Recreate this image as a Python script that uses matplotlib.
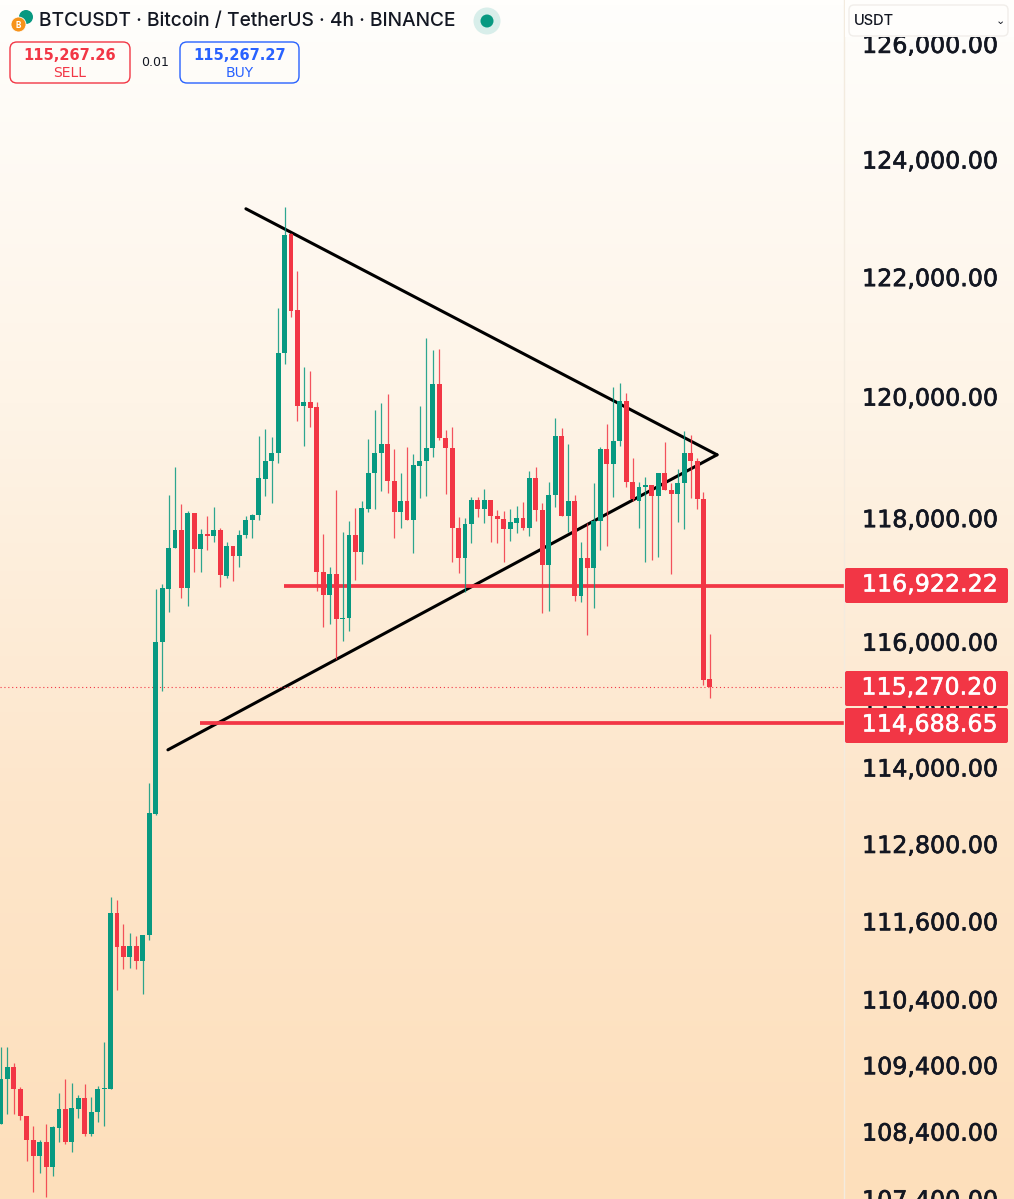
import matplotlib
matplotlib.use("Agg")
import matplotlib.patheffects as pe
import matplotlib.pyplot as plt
import numpy as np
from matplotlib.colors import LinearSegmentedColormap
from matplotlib.patches import Circle, FancyBboxPatch, Rectangle

plt.rcParams["font.family"] = ["Inter", "DejaVu Sans"]

GREEN = "#089981"
RED = "#f23645"
BLUE = "#2962ff"
INK = "#131722"
NUM_FONT = "DejaVu Sans"  # equal width digits, like the price scale
NUM_SIZE = 17.1

# 4h candles
opens = [
    108510, 109190, 109370, 109040, 108620, 108270, 108030, 108240, 107870, 108450,
    108730, 108240, 108730, 108900, 108350, 108690, 109040, 109040, 111720, 111210,
    111050, 111210, 110980, 111380, 113260, 115990, 116840, 117510, 117800, 116860,
    118080, 117490, 117740, 117700, 117790, 117050, 117530, 117380, 117720, 117960,
    118050, 118640, 118920, 119060, 120720, 122720, 121440, 119840, 119900, 119820,
    117120, 116750, 117090, 116360, 116380, 117720, 117440, 118140, 118730, 119060,
    119210, 118600, 118090, 118270, 117960, 118850, 118920, 119150, 120200, 119310,
    119150, 117830, 117350, 117900, 118290, 118140, 118290, 118030, 117980, 117820,
    117920, 118000, 117830, 118650, 118130, 117230, 118370, 119340, 118030, 118270,
    116730, 117350, 117180, 117950, 119130, 118880, 119260, 119920, 118590, 118270,
    118500, 118540, 118350, 118730, 118450, 118390, 118570, 119060, 118920, 118310,
    115400,
]
highs = [
    109670, 109670, 109430, 109070, 108630, 108470, 108270, 108510, 108470, 108980,
    109190, 109130, 108940, 109110, 108910, 109080, 109750, 111970, 111920, 111550,
    111410, 111370, 111380, 113750, 116840, 116920, 118370, 118830, 118220, 118110,
    118080, 117820, 118030, 118180, 117830, 117610, 117530, 117800, 118030, 118060,
    119340, 119460, 119330, 121470, 123180, 122740, 122100, 120490, 120420, 119900,
    117740, 117200, 118450, 117770, 117950, 118160, 118270, 119290, 119770, 119890,
    120040, 119130, 118730, 119160, 119050, 119840, 120970, 120760, 120790, 119440,
    119490, 118010, 118000, 118340, 118340, 118470, 118290, 118130, 118110, 118140,
    118190, 118260, 118770, 118830, 118240, 118590, 119640, 119480, 119210, 118370,
    117610, 117920, 118570, 119160, 119540, 120150, 120220, 120050, 118980, 118590,
    118670, 118540, 118730, 119240, 118570, 118800, 119430, 119360, 118980, 118420,
    116120,
]
lows = [
    108500, 108660, 108650, 108560, 107960, 107490, 107780, 107420, 107730, 108230,
    108200, 108080, 108600, 108330, 108320, 108540, 108480, 109040, 110540, 110860,
    110880, 110860, 110480, 111310, 113250, 115200, 116470, 117510, 116700, 116570,
    117120, 117120, 117480, 117610, 116880, 117020, 116970, 117200, 117660, 117670,
    117960, 118350, 118240, 118900, 120540, 121320, 119590, 119180, 119490, 116810,
    116230, 116280, 115720, 116010, 116170, 116990, 117250, 118090, 118140, 118440,
    118400, 117670, 117830, 117960, 117430, 118320, 118350, 119000, 119280, 118390,
    117280, 117100, 116790, 117590, 118010, 117920, 117610, 117590, 117270, 117620,
    117750, 117800, 117700, 117950, 116460, 116490, 118180, 118030, 117770, 116650,
    116630, 116100, 116540, 117480, 117530, 118340, 119180, 118500, 118270, 117830,
    117280, 117310, 117360, 118450, 117090, 117930, 117820, 118320, 118140, 115300,
    115090,
]
closes = [
    109190, 109370, 109040, 108620, 108270, 108030, 108240, 107870, 108460, 108730,
    108240, 108750, 108900, 108350, 108690, 109040, 109050, 111720, 111200, 111050,
    111210, 110980, 111380, 113280, 115990, 116860, 117510, 117800, 116860, 118080,
    117490, 117740, 117700, 117790, 117070, 117530, 117380, 117720, 117960, 118050,
    118650, 118930, 119060, 120720, 122710, 121420, 119840, 119900, 119800, 117120,
    116750, 117090, 116360, 116380, 117720, 117440, 118160, 118730, 119060, 119210,
    118600, 118090, 118270, 117960, 118870, 118930, 119150, 120200, 119310, 119150,
    117830, 117350, 117900, 118290, 118140, 118290, 118030, 117980, 117820, 117930,
    118000, 117830, 118650, 118130, 117230, 118370, 119340, 118030, 118270, 116730,
    117350, 117180, 117950, 119130, 118880, 119260, 119920, 118590, 118310, 118500,
    118540, 118350, 118730, 118450, 118390, 118570, 119060, 118920, 118310, 115380,
    115270,
]

price_ticks = [126000, 124000, 122000, 120000, 118000, 116000, 115000, 114000,
               112800, 111600, 110400, 109400, 108400, 107400]

level_high = 116922.22
level_low = 114688.65
last_price = 115270.20

# trend lines as (candle index, price)
upper_trend = ([38.0, 111.1], [123150, 119030])
lower_trend = ([25.9, 111.1], [114270, 119030])
level_high_start = 43.9
level_low_start = 30.9
level_high_drawn = 116890  # the line sits a little under its tag

fig = plt.figure(figsize=(10.14, 11.99), dpi=100)

# page background
bg = fig.add_axes([0, 0, 1, 1], zorder=0)
cmap = LinearSegmentedColormap.from_list("page", ["#fffefc", "#fef4e7", "#fde6cb", "#fddfbb"])
bg.imshow(np.linspace(0, 1, 256).reshape(-1, 1), aspect="auto", cmap=cmap)
bg.axis("off")

ax = fig.add_axes([0, 0, 844 / 1014, 1], zorder=1)
ax.patch.set_alpha(0)
ax.set_yscale("log")
ax.set_xlim(-0.155, 130.8)
ax.set_ylim(107387, 126758)

# lines sit under the candles
ax.plot(*upper_trend, color="black", lw=2.2, solid_capstyle="round", zorder=1)
ax.plot(*lower_trend, color="black", lw=2.2, solid_capstyle="round", zorder=1)
ax.hlines(level_high_drawn, level_high_start, 130.8, color=RED, lw=2.7, zorder=1)
ax.hlines(level_low, level_low_start, 130.8, color=RED, lw=2.7, zorder=1)
ax.axhline(last_price, color=RED, lw=0.8, ls=(0, (1, 2.5)), zorder=1)

idx = np.arange(len(opens))
o, h, l, c = map(np.array, (opens, highs, lows, closes))
colors = [GREEN if cc >= oo else RED for oo, cc in zip(o, c)]
ax.vlines(idx, l, h, color=colors, lw=0.9, alpha=0.85, zorder=2)
ax.bar(idx, np.abs(c - o), bottom=np.minimum(o, c), width=0.76, color=colors, zorder=3)

ax.set_xticks([])
ax.minorticks_off()
ax.yaxis.tick_right()
ax.set_yticks(price_ticks)
ax.set_yticks([], minor=True)
ax.set_yticklabels([f"{p:,.2f}" for p in price_ticks], fontsize=NUM_SIZE, family=NUM_FONT, color=INK)
for tick_label in ax.get_yticklabels():
    tick_label.set_path_effects([pe.withStroke(linewidth=0.5, foreground=INK)])
ax.tick_params(axis="y", length=0, pad=13, which="both")
for side in ["top", "left", "bottom"]:
    ax.spines[side].set_visible(False)
ax.spines["right"].set_color("#f3ebdf")
ax.spines["right"].set_linewidth(1)

# header, price tags and dropdown, laid out in image pixels
ui = fig.add_axes([0, 0, 1, 1], zorder=2)
ui.set_xlim(0, 1014)
ui.set_ylim(1199, 0)
ui.axis("off")

for label, y0, y1, cy in [
    (f"{level_high:,.2f}", 568, 603, 584.5),
    (f"{last_price:,.2f}", 671, 706, 687.5),
    (f"{level_low:,.2f}", 708, 743, 724.5),
]:
    ui.add_patch(FancyBboxPatch((845, y0), 163, y1 - y0, boxstyle="round,pad=0,rounding_size=2",
                                fc=RED, ec="none", mutation_aspect=1))
    ui.text(998, cy, label, color="white", fontsize=NUM_SIZE, family=NUM_FONT, ha="right", va="center",
            path_effects=[pe.withStroke(linewidth=0.4, foreground="white")])

# dropdown covers the top tick label
ui.add_patch(Rectangle((845, 0), 169, 37, fc="#fffefc", ec="none"))
ui.add_patch(FancyBboxPatch((849, 5), 159, 31, boxstyle="round,pad=0,rounding_size=5",
                            fc="#fffefc", ec="#f1eeea", lw=1))
ui.text(854, 21, "USDT", fontsize=10.5, fontweight="medium", color=INK, va="center")
ui.text(1000, 21, "⌄", fontsize=8, color=INK, va="center", ha="center", family="DejaVu Sans")

# symbol logo
ui.add_patch(Circle((26, 17), 7, fc=GREEN, ec="none"))
ui.add_patch(Circle((18.5, 24.5), 7.5, fc="#f7931a", ec="white", lw=0.6))
ui.text(18.5, 25, "B", color="white", fontsize=6, fontweight="bold", ha="center", va="center")

ui.text(39, 21, "BTCUSDT · Bitcoin / TetherUS · 4h · BINANCE", fontsize=13.8, fontweight="medium",
        color=INK, va="center")
ui.add_patch(Circle((487, 21), 13.5, fc="#d8eeea", ec="none"))
ui.add_patch(Circle((487, 21), 6.5, fc=GREEN, ec="none"))

for x0, w, col, price, side in [(10, 120, RED, "115,267.26", "SELL"), (180, 119, BLUE, "115,267.27", "BUY")]:
    ui.add_patch(FancyBboxPatch((x0, 42), w, 41, boxstyle="round,pad=0,rounding_size=7",
                                fc="none", ec=col, lw=1))
    ui.text(x0 + w / 2, 55.5, price, color=col, fontsize=10.5, fontweight="bold", family="DejaVu Sans",
            ha="center", va="center")
    ui.text(x0 + w / 2, 73, side, color=col, fontsize=10, family="DejaVu Sans", ha="center", va="center")
ui.text(155, 63, "0.01", color=INK, fontsize=9, family="DejaVu Sans", ha="center", va="center")

fig.savefig("out.png", dpi=100)
